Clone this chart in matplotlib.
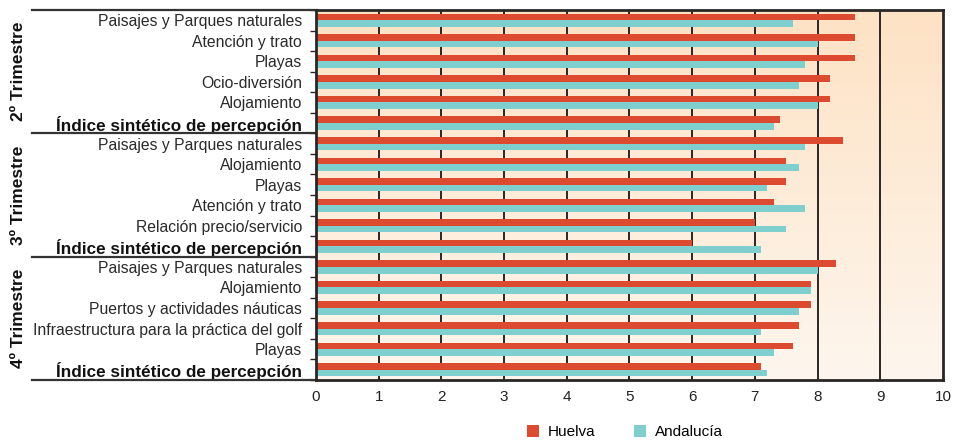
import numpy as np
import matplotlib.pyplot as plt
from matplotlib.colors import LinearSegmentedColormap

plt.rcParams['font.family'] = ['Liberation Sans', 'DejaVu Sans']

groups = ["2º Trimestre", "3º Trimestre", "4º Trimestre"]

cats_t2 = ["Paisajes y Parques naturales", "Atención y trato", "Playas",
           "Ocio-diversión", "Alojamiento", "Índice sintético de percepción"]
huelva_t2 = [8.6, 8.6, 8.6, 8.2, 8.2, 7.4]
andalucia_t2 = [7.6, 8.0, 7.8, 7.7, 8.0, 7.3]

cats_t3 = ["Paisajes y Parques naturales", "Alojamiento", "Playas",
           "Atención y trato", "Relación precio/servicio", "Índice sintético de percepción"]
huelva_t3 = [8.4, 7.5, 7.5, 7.3, 7.0, 6.0]
andalucia_t3 = [7.8, 7.7, 7.2, 7.8, 7.5, 7.1]

cats_t4 = ["Paisajes y Parques naturales", "Alojamiento", "Puertos y actividades náuticas",
           "Infraestructura para la práctica del golf", "Playas", "Índice sintético de percepción"]
huelva_t4 = [8.3, 7.9, 7.9, 7.7, 7.6, 7.1]
andalucia_t4 = [8.0, 7.9, 7.7, 7.1, 7.3, 7.2]

cats = cats_t2 + cats_t3 + cats_t4
huelva = huelva_t2 + huelva_t3 + huelva_t4
andalucia = andalucia_t2 + andalucia_t3 + andalucia_t4

red = "#DC4B2F"
cyan = "#7ECFCE"
dark = "#2b2626"

fig = plt.figure(figsize=(9.54, 4.42), dpi=100)
ax = fig.add_axes([0.3312, 0.1403, 0.6573, 0.8371])

n = len(cats)
y = np.arange(n)
h = 0.32

# gradient background, peach at top to near white at bottom
cmap = LinearSegmentedColormap.from_list("bg", ["#FEF6EE", "#FDE2C4"])
grad = np.linspace(0, 1, 256).reshape(-1, 1)
ax.imshow(grad, aspect="auto", cmap=cmap, extent=[0, 10, n - 0.5, -0.5],
          origin="lower", zorder=0)

ax.barh(y - h / 2, huelva, height=h, color=red, zorder=3, label="Huelva")
ax.barh(y + h / 2, andalucia, height=h, color=cyan, zorder=3, label="Andalucía")

for xv in range(1, 10):
    ax.axvline(xv, color=dark, lw=1.4, zorder=2)

ax.set_xlim(0, 10)
ax.set_ylim(n - 0.5, -0.5)
ax.set_xticks(range(0, 11))
ax.tick_params(axis="x", length=0, labelsize=11, pad=7, colors="#222222")

ax.set_yticks(np.arange(n + 1) - 0.5, minor=True)
ax.set_yticks(y)
ax.set_yticklabels(cats)
ax.tick_params(axis="y", which="major", length=0, labelsize=11.3, pad=10, colors="#2a2a2a")
ax.tick_params(axis="y", which="minor", length=4, width=1, color=dark)
for i, lab in enumerate(ax.get_yticklabels()):
    if cats[i].startswith("Índice"):
        lab.set_fontweight("bold")
        lab.set_fontsize(12.3)
        lab.set_color("#111111")

for s in ax.spines.values():
    s.set_color(dark)
    s.set_linewidth(2)
    s.set_zorder(5)

# group separators and labels
for k in range(len(groups) + 1):
    yy = k * 6 - 0.5
    ax.plot([-4.53, 0], [yy, yy], color="#333333", lw=1.6, clip_on=False, zorder=5)
for k, g in enumerate(groups):
    ax.text(-4.75, k * 6 + 2.5, g, rotation=90, ha="center", va="center",
            fontsize=12.5, fontweight="bold", color="#111111")

fig.legend(loc="lower center", bbox_to_anchor=(0.655, -0.025), ncol=2, frameon=False,
           fontsize=11, handlelength=0.8, handleheight=0.8, columnspacing=2.5,
           handletextpad=0.6)

fig.savefig("out.png", dpi=100)
